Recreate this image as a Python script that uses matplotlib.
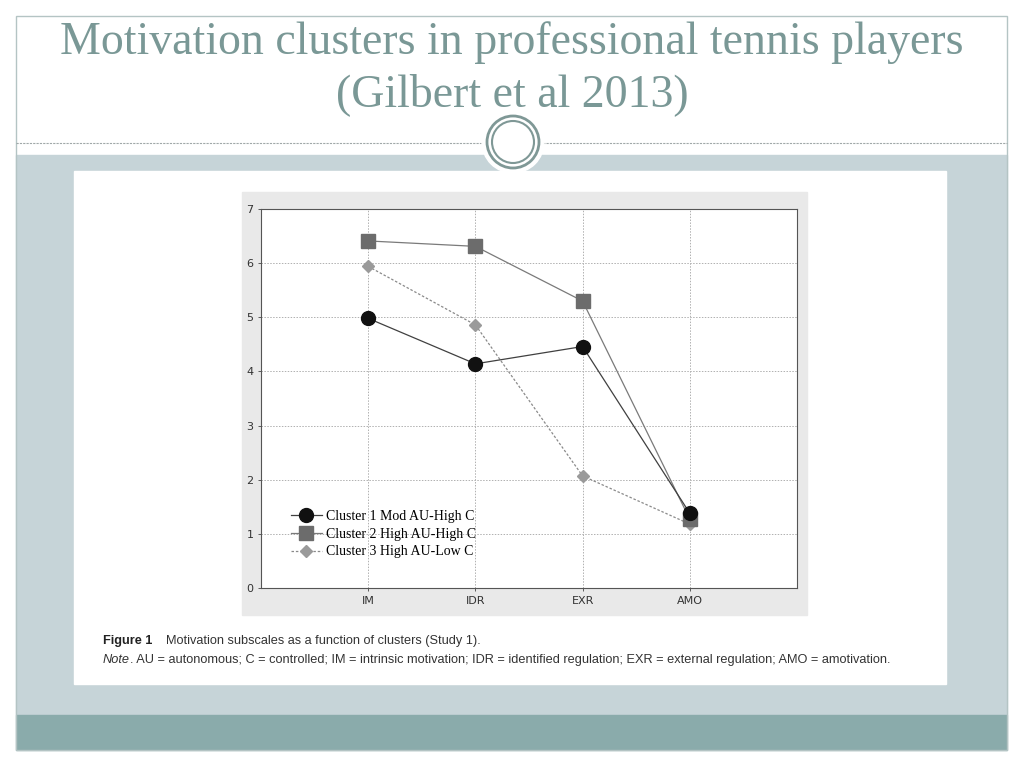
import matplotlib
matplotlib.use("Agg")
import matplotlib.pyplot as plt
from matplotlib.patches import Rectangle, Circle
from matplotlib.lines import Line2D

# data
subscales = ["IM", "IDR", "EXR", "AMO"]
cluster1 = [4.98, 4.14, 4.46, 1.38]
cluster2 = [6.41, 6.31, 5.30, 1.27]
cluster3 = [5.94, 4.86, 2.07, 1.18]
labels = [
    "Cluster 1 Mod AU-High C",
    "Cluster 2 High AU-High C",
    "Cluster 3 High AU-Low C",
]
y_ticks = [0, 1, 2, 3, 4, 5, 6, 7]

title_color = "#7a9896"
cap_size = 9.2

fig = plt.figure(figsize=(10.24, 7.68), dpi=100)

# slide decoration, drawn in pixel coords
bg = fig.add_axes([0, 0, 1, 1])
bg.set_xlim(0, 1024)
bg.set_ylim(768, 0)
bg.axis("off")

bg.add_patch(Rectangle((16, 155), 991, 560, color="#c6d4d8", zorder=1))
bg.add_patch(Rectangle((16, 715), 991, 35, color="#8aabab", zorder=1))
bg.add_patch(Rectangle((16, 16), 991, 734, fill=False,
                       edgecolor="#b4c4c4", lw=1, zorder=2))
bg.plot([16, 1007], [143, 143], ls=(0, (2, 1)), color="#a0a8a8", lw=0.8, zorder=2)
bg.add_patch(Circle((513, 142), 31, color="white", zorder=3))
bg.add_patch(Circle((513, 142), 26, fill=False, edgecolor="#7f9896", lw=2, zorder=4))
bg.add_patch(Circle((513, 142), 21, fill=False, edgecolor="#7f9896", lw=1.5, zorder=4))

bg.text(512, 43, "Motivation clusters in professional tennis players",
        ha="center", va="center", fontsize=33, color=title_color,
        family="Liberation Serif", zorder=5)
bg.text(512, 95, "(Gilbert et al 2013)", ha="center", va="center",
        fontsize=33, color=title_color, family="Liberation Serif", zorder=5)

# white figure image and grey chart panel
bg.add_patch(Rectangle((74, 171), 872, 513, color="white", zorder=2))
bg.add_patch(Rectangle((242, 192), 565, 423, color="#e9e9e9", zorder=3))

bg.text(103, 641, "Figure 1", ha="left", va="center", fontsize=cap_size,
        fontweight="bold", family="Liberation Sans", color="#222222", zorder=5)
bg.text(166, 641, "Motivation subscales as a function of clusters (Study 1).",
        ha="left", va="center", fontsize=cap_size, family="Liberation Sans",
        color="#333333", zorder=5)
note = bg.text(103, 660, "Note", ha="left", va="center", fontsize=cap_size,
               style="italic", family="Liberation Sans", color="#333333",
               zorder=5)
renderer = fig.canvas.get_renderer()
note_w = note.get_window_extent(renderer).width
bg.text(103 + note_w, 660,
        ". AU = autonomous; C = controlled; IM = intrinsic motivation; "
        "IDR = identified regulation; EXR = external regulation; AMO = amotivation.",
        ha="left", va="center", fontsize=cap_size, family="Liberation Sans",
        color="#333333", zorder=5)

# the chart itself
ax = fig.add_axes([261 / 1024, 1 - 588 / 768, 536 / 1024, 379 / 768])
ax.set_facecolor("white")
x = list(range(1, len(subscales) + 1))

ax.plot(x, cluster1, color="#404040", lw=0.9, marker="o", markersize=10,
        markerfacecolor="#111111", markeredgecolor="#111111", zorder=5)
ax.plot(x, cluster2, color="#7a7a7a", lw=0.9, marker="s", markersize=10,
        markerfacecolor="#6c6c6c", markeredgecolor="#6c6c6c", zorder=4)
ax.plot(x, cluster3, color="#8a8a8a", lw=0.9, ls=(0, (2, 1.5)), marker="D",
        markersize=6, markerfacecolor="#9a9a9a", markeredgecolor="#9a9a9a",
        zorder=3)

ax.set_xlim(0, 5)
ax.set_ylim(0, 7)
ax.set_xticks(x)
ax.set_xticklabels(subscales)
ax.set_yticks(y_ticks)
ax.tick_params(labelsize=8, length=2, width=0.6, colors="#444444",
               labelcolor="#333333")
ax.grid(True, ls=(0, (1.5, 1.5)), color="#b0b0b0", lw=0.7)
ax.set_axisbelow(True)
for s in ax.spines.values():
    s.set_color("#555555")
    s.set_linewidth(0.8)

handles = [
    Line2D([], [], color="#404040", lw=0.9, marker="o", markersize=10,
           markerfacecolor="#111111", markeredgecolor="#111111"),
    Line2D([], [], color="#7a7a7a", lw=0.9, marker="s", markersize=10,
           markerfacecolor="#6c6c6c", markeredgecolor="#6c6c6c"),
    Line2D([], [], color="#8a8a8a", lw=0.9, ls=(0, (2, 1.5)), marker="D",
           markersize=6, markerfacecolor="#9a9a9a", markeredgecolor="#9a9a9a"),
]
ax.legend(handles, labels, loc="lower left", bbox_to_anchor=(0.033, 0.045),
          frameon=False, handlelength=2.2, handletextpad=0.3,
          labelspacing=0.35, prop={"family": "Liberation Serif", "size": 10})

fig.savefig("out.png", dpi=100)
